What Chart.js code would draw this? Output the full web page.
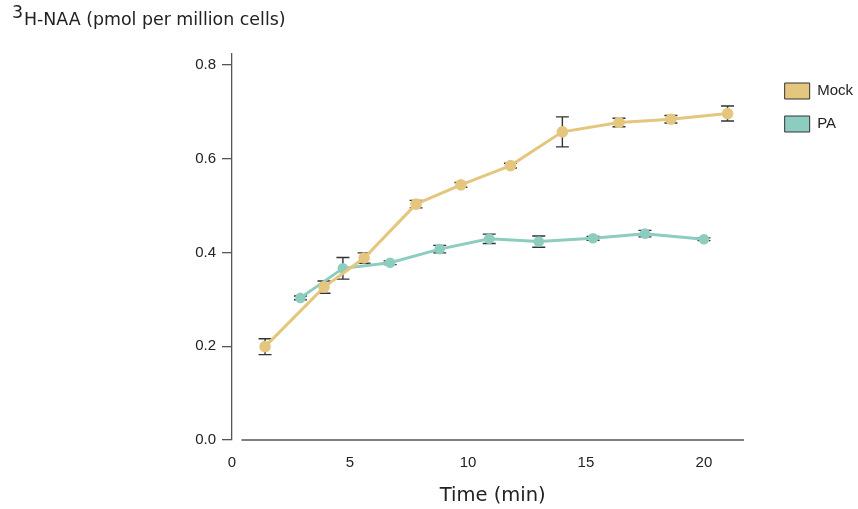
<!DOCTYPE html>
<html>
<head>
<meta charset="utf-8">
<script src="https://cdn.jsdelivr.net/npm/chart.js@4.4.1/dist/chart.umd.min.js"></script>
<style>
  html, body { margin: 0; padding: 0; background: #fff; }
  #wrap { width: 858px; height: 509px; position: relative; }
</style>
</head>
<body>
<div id="wrap"><canvas id="uptakeChart"></canvas></div>
<script>
// Dữ liệu (thời gian tính bằng phút)
const mockTime = [1.4, 3.9, 5.6, 7.8, 9.7, 11.8, 14.0, 16.4, 18.6, 21.0];
const mockValues = [0.199, 0.326, 0.388, 0.503, 0.544, 0.585, 0.657, 0.677, 0.684, 0.696];
const mockErrors = [0.017, 0.013, 0.011, 0.008, 0.005, 0.005, 0.032, 0.009, 0.008, 0.016];

const paTime = [2.9, 4.7, 6.7, 8.8, 10.9, 13.0, 15.3, 17.5, 20.0];
const paValues = [0.303, 0.366, 0.378, 0.407, 0.429, 0.423, 0.430, 0.440, 0.428];
const paErrors = [0.004, 0.023, 0.004, 0.008, 0.010, 0.012, 0.004, 0.007, 0.003];

const xTicks = [0, 5, 10, 15, 20];
const yTicks = [0, 0.2, 0.4, 0.6, 0.8];

// trục x vẽ riêng, hở một chút ở gốc
const xLineFrom = 0.4;
const xLineTo = 21.7;

const mockColor = '#e4c67e';
const paColor = '#8dcdbf';

const toPoints = (xs, ys) => xs.map((x, i) => ({ x: x, y: ys[i] }));

// Thanh sai số vẽ dưới các điểm, cùng với trục x
const errorBars = {
    id: 'errorBars',
    beforeDatasetsDraw(chart) {
        const { ctx, scales: { x, y } } = chart;
        const yy = y.getPixelForValue(0);
        ctx.save();
        ctx.strokeStyle = '#555';
        ctx.lineWidth = 1.3;
        ctx.beginPath();
        ctx.moveTo(x.getPixelForValue(xLineFrom), yy);
        ctx.lineTo(x.getPixelForValue(xLineTo), yy);
        ctx.stroke();

        const sets = [[mockTime, mockValues, mockErrors], [paTime, paValues, paErrors]];
        ctx.strokeStyle = '#333';
        ctx.lineWidth = 1.4;
        sets.forEach(([ts, vs, es]) => {
            ts.forEach((t, i) => {
                const px = x.getPixelForValue(t);
                const top = y.getPixelForValue(vs[i] + es[i]);
                const bot = y.getPixelForValue(vs[i] - es[i]);
                ctx.beginPath();
                ctx.moveTo(px, top); ctx.lineTo(px, bot);
                ctx.moveTo(px - 6.5, top); ctx.lineTo(px + 6.5, top);
                ctx.moveTo(px - 6.5, bot); ctx.lineTo(px + 6.5, bot);
                ctx.stroke();
            });
        });
        ctx.restore();
    },
    afterDraw(chart) {
        const { ctx, scales: { x } } = chart;
        ctx.save();
        ctx.fillStyle = '#222';
        ctx.textBaseline = 'alphabetic';
        // tiêu đề trục y đặt ở góc trên bên trái
        ctx.font = '17.4px "DejaVu Sans"';
        ctx.textAlign = 'left';
        ctx.fillText('3', 12, 18);
        ctx.fillText('H-NAA (pmol per million cells)', 24, 25);
        // tiêu đề trục x, canh giữa đường trục
        ctx.font = '19.5px "DejaVu Sans"';
        ctx.textAlign = 'center';
        const mid = (x.getPixelForValue(xLineFrom) + x.getPixelForValue(xLineTo)) / 2;
        ctx.fillText('Time (min)', mid, 501);
        ctx.restore();
    }
};

const ctx = document.getElementById('uptakeChart').getContext('2d');
const uptakeChart = new Chart(ctx, {
    type: 'line',
    data: {
        datasets: [{
            label: 'Mock',
            data: toPoints(mockTime, mockValues),
            borderColor: mockColor,
            backgroundColor: mockColor,
            borderWidth: 3,
            pointRadius: 5.8,
            pointBorderWidth: 0,
            pointBackgroundColor: mockColor,
            tension: 0
        }, {
            label: 'PA',
            data: toPoints(paTime, paValues),
            borderColor: paColor,
            backgroundColor: paColor,
            borderWidth: 3,
            pointRadius: 5.3,
            pointBorderWidth: 0,
            pointBackgroundColor: paColor,
            tension: 0
        }]
    },
    options: {
        responsive: true,
        maintainAspectRatio: false,
        animation: false,
        layout: { padding: { top: 54, right: -5, left: 0, bottom: 0 } },
        scales: {
            x: {
                type: 'linear',
                min: 0,
                max: 22.7,
                afterBuildTicks: s => { s.ticks = xTicks.map(v => ({ value: v })); },
                afterFit: s => { s.height = 69; },
                grid: { display: false, drawTicks: false },
                border: { display: false },
                ticks: { padding: 14, color: '#222', font: { family: 'Arial, "Liberation Sans", sans-serif', size: 15 } }
            },
            y: {
                min: 0,
                max: 0.823,
                afterBuildTicks: s => { s.ticks = yTicks.map(v => ({ value: v })); },
                afterFit: s => { s.width = 232; },
                grid: { drawOnChartArea: false, drawTicks: true, tickLength: 10, color: '#555', lineWidth: 1.3 },
                border: { display: true, color: '#555', width: 1.3 },
                ticks: {
                    padding: 6,
                    color: '#222',
                    font: { family: 'Arial, "Liberation Sans", sans-serif', size: 15 },
                    callback: v => v.toFixed(1)
                }
            }
        },
        plugins: {
            legend: {
                position: 'right',
                align: 'start',
                title: { display: true, text: ' ', padding: 0, font: { size: 10, lineHeight: 1.2 } },
                labels: {
                    boxWidth: 25,
                    boxHeight: 16,
                    padding: 17,
                    color: '#222',
                    font: { family: 'Arial, "Liberation Sans", sans-serif', size: 15 },
                    generateLabels: chart => chart.data.datasets.map((ds, i) => ({
                        text: ds.label,
                        fillStyle: ds.backgroundColor,
                        strokeStyle: '#333',
                        fontColor: '#222',
                        lineWidth: 1,
                        datasetIndex: i,
                        hidden: false
                    }))
                }
            },
            tooltip: { enabled: false }
        }
    },
    plugins: [errorBars]
});
</script>
</body>
</html>
